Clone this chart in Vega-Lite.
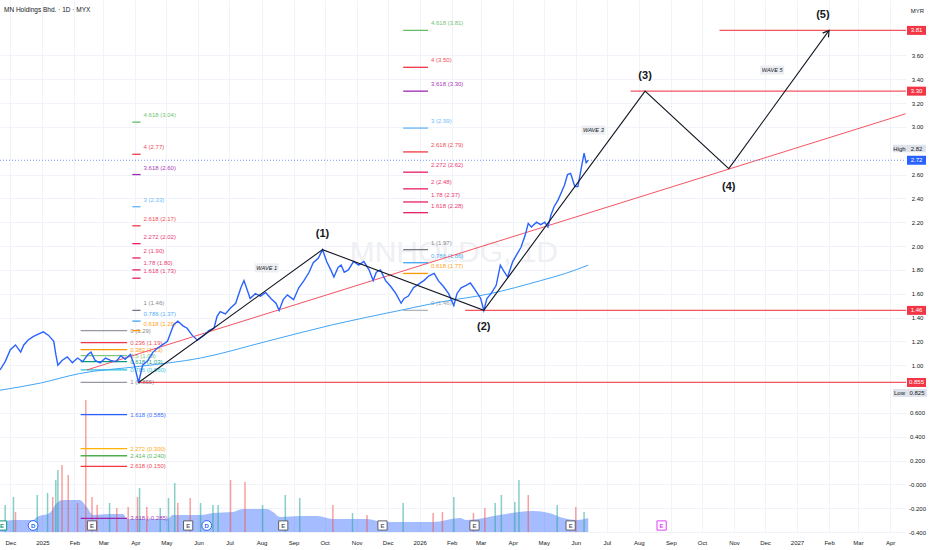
{
  "$schema": "https://vega.github.io/schema/vega-lite/v6.json",
  "width": 906,
  "height": 532,
  "autosize": {"type": "none"},
  "padding": {"left": 0, "top": 0, "right": 26, "bottom": 18},
  "background": "#ffffff",
  "title": {"text": "MN Holdings Bhd. · 1D · MYX", "anchor": "start", "frame": "group", "offset": -13, "dx": 4, "fontSize": 6.5, "fontWeight": "normal", "color": "#131722", "font": "Liberation Sans"},
  "config": {"view": {"stroke": null}, "font": "Liberation Sans"},
  "datasets": {
    "price": [
      {"date": "2024-11-21", "price": 0.96}, {"date": "2024-11-26", "price": 1.03}, {"date": "2024-12-01", "price": 1.13},
      {"date": "2024-12-06", "price": 1.17}, {"date": "2024-12-11", "price": 1.11}, {"date": "2024-12-14", "price": 1.17},
      {"date": "2024-12-18", "price": 1.21}, {"date": "2024-12-23", "price": 1.24}, {"date": "2024-12-28", "price": 1.26},
      {"date": "2025-01-02", "price": 1.28}, {"date": "2025-01-07", "price": 1.25}, {"date": "2025-01-12", "price": 1.2},
      {"date": "2025-01-14", "price": 1.09}, {"date": "2025-01-16", "price": 1.0}, {"date": "2025-01-20", "price": 1.04},
      {"date": "2025-01-25", "price": 1.07}, {"date": "2025-01-30", "price": 1.02}, {"date": "2025-02-04", "price": 1.06},
      {"date": "2025-02-09", "price": 1.03}, {"date": "2025-02-14", "price": 1.09}, {"date": "2025-02-17", "price": 1.11},
      {"date": "2025-02-21", "price": 1.04}, {"date": "2025-02-26", "price": 1.02}, {"date": "2025-03-03", "price": 1.06},
      {"date": "2025-03-08", "price": 1.04}, {"date": "2025-03-13", "price": 1.03}, {"date": "2025-03-18", "price": 1.08},
      {"date": "2025-03-22", "price": 1.05}, {"date": "2025-03-27", "price": 1.09}, {"date": "2025-03-31", "price": 1.0},
      {"date": "2025-04-04", "price": 0.855}, {"date": "2025-04-08", "price": 1.0}, {"date": "2025-04-13", "price": 1.04},
      {"date": "2025-04-18", "price": 1.11}, {"date": "2025-04-22", "price": 1.14}, {"date": "2025-04-27", "price": 1.17},
      {"date": "2025-05-02", "price": 1.2}, {"date": "2025-05-08", "price": 1.34}, {"date": "2025-05-12", "price": 1.37},
      {"date": "2025-05-17", "price": 1.33}, {"date": "2025-05-21", "price": 1.31}, {"date": "2025-05-26", "price": 1.25},
      {"date": "2025-05-31", "price": 1.21}, {"date": "2025-06-06", "price": 1.25}, {"date": "2025-06-11", "price": 1.29},
      {"date": "2025-06-16", "price": 1.31}, {"date": "2025-06-19", "price": 1.41}, {"date": "2025-06-22", "price": 1.45},
      {"date": "2025-06-27", "price": 1.43}, {"date": "2025-07-02", "price": 1.48}, {"date": "2025-07-07", "price": 1.52},
      {"date": "2025-07-12", "price": 1.65}, {"date": "2025-07-15", "price": 1.71}, {"date": "2025-07-19", "price": 1.61},
      {"date": "2025-07-21", "price": 1.56}, {"date": "2025-07-26", "price": 1.6}, {"date": "2025-07-31", "price": 1.58},
      {"date": "2025-08-05", "price": 1.61}, {"date": "2025-08-10", "price": 1.56}, {"date": "2025-08-15", "price": 1.52},
      {"date": "2025-08-18", "price": 1.46}, {"date": "2025-08-22", "price": 1.55}, {"date": "2025-08-26", "price": 1.59},
      {"date": "2025-09-01", "price": 1.55}, {"date": "2025-09-06", "price": 1.65}, {"date": "2025-09-11", "price": 1.71},
      {"date": "2025-09-16", "price": 1.78}, {"date": "2025-09-20", "price": 1.86}, {"date": "2025-09-25", "price": 1.9},
      {"date": "2025-09-29", "price": 1.97}, {"date": "2025-10-03", "price": 1.87}, {"date": "2025-10-07", "price": 1.8},
      {"date": "2025-10-10", "price": 1.74}, {"date": "2025-10-14", "price": 1.82}, {"date": "2025-10-17", "price": 1.84},
      {"date": "2025-10-20", "price": 1.78}, {"date": "2025-10-24", "price": 1.8}, {"date": "2025-10-29", "price": 1.87},
      {"date": "2025-11-03", "price": 1.84}, {"date": "2025-11-08", "price": 1.87}, {"date": "2025-11-13", "price": 1.8},
      {"date": "2025-11-17", "price": 1.71}, {"date": "2025-11-20", "price": 1.78}, {"date": "2025-11-24", "price": 1.8},
      {"date": "2025-11-29", "price": 1.71}, {"date": "2025-12-04", "price": 1.66}, {"date": "2025-12-09", "price": 1.6},
      {"date": "2025-12-14", "price": 1.52}, {"date": "2025-12-17", "price": 1.56}, {"date": "2025-12-21", "price": 1.58},
      {"date": "2025-12-26", "price": 1.65}, {"date": "2025-12-31", "price": 1.68}, {"date": "2026-01-05", "price": 1.71},
      {"date": "2026-01-10", "price": 1.75}, {"date": "2026-01-15", "price": 1.77}, {"date": "2026-01-19", "price": 1.71},
      {"date": "2026-01-24", "price": 1.66}, {"date": "2026-01-29", "price": 1.6}, {"date": "2026-02-03", "price": 1.5},
      {"date": "2026-02-06", "price": 1.6}, {"date": "2026-02-10", "price": 1.65}, {"date": "2026-02-15", "price": 1.67},
      {"date": "2026-02-19", "price": 1.69}, {"date": "2026-02-23", "price": 1.64}, {"date": "2026-02-26", "price": 1.6},
      {"date": "2026-03-01", "price": 1.56}, {"date": "2026-03-04", "price": 1.46}, {"date": "2026-03-07", "price": 1.56},
      {"date": "2026-03-11", "price": 1.6}, {"date": "2026-03-16", "price": 1.67}, {"date": "2026-03-20", "price": 1.84},
      {"date": "2026-03-24", "price": 1.78}, {"date": "2026-03-27", "price": 1.74}, {"date": "2026-04-01", "price": 1.87},
      {"date": "2026-04-05", "price": 1.93}, {"date": "2026-04-09", "price": 1.99}, {"date": "2026-04-13", "price": 2.09},
      {"date": "2026-04-16", "price": 2.19}, {"date": "2026-04-19", "price": 2.16}, {"date": "2026-04-24", "price": 2.2},
      {"date": "2026-04-28", "price": 2.18}, {"date": "2026-05-02", "price": 2.2}, {"date": "2026-05-05", "price": 2.16},
      {"date": "2026-05-08", "price": 2.26}, {"date": "2026-05-11", "price": 2.33}, {"date": "2026-05-15", "price": 2.39},
      {"date": "2026-05-18", "price": 2.45}, {"date": "2026-05-21", "price": 2.51}, {"date": "2026-05-24", "price": 2.6},
      {"date": "2026-05-27", "price": 2.61}, {"date": "2026-05-31", "price": 2.5}, {"date": "2026-06-03", "price": 2.5},
      {"date": "2026-06-06", "price": 2.64}, {"date": "2026-06-09", "price": 2.78}, {"date": "2026-06-11", "price": 2.7},
      {"date": "2026-06-13", "price": 2.72}
    ],
    "ma": [
      {"date": "2024-11-21", "price": 0.79}, {"date": "2024-12-30", "price": 0.85}, {"date": "2025-02-06", "price": 0.93},
      {"date": "2025-04-05", "price": 0.99}, {"date": "2025-06-03", "price": 1.06}, {"date": "2025-08-06", "price": 1.2},
      {"date": "2025-10-09", "price": 1.34}, {"date": "2025-12-13", "price": 1.46}, {"date": "2026-01-21", "price": 1.53},
      {"date": "2026-03-10", "price": 1.6}, {"date": "2026-04-28", "price": 1.71}, {"date": "2026-05-22", "price": 1.77},
      {"date": "2026-06-13", "price": 1.84}
    ],
    "volma": [
      {"date": "2024-11-21", "vol": 1.0}, {"date": "2024-12-04", "vol": 1.2}, {"date": "2024-12-23", "vol": 1.2},
      {"date": "2024-12-27", "vol": 1.5}, {"date": "2025-01-08", "vol": 1.9}, {"date": "2025-01-15", "vol": 2.9},
      {"date": "2025-01-21", "vol": 3.2}, {"date": "2025-02-06", "vol": 3.2}, {"date": "2025-02-13", "vol": 2.5},
      {"date": "2025-02-19", "vol": 1.7}, {"date": "2025-03-07", "vol": 1.8}, {"date": "2025-03-20", "vol": 1.8},
      {"date": "2025-03-24", "vol": 1.3}, {"date": "2025-05-02", "vol": 1.3}, {"date": "2025-05-07", "vol": 1.7},
      {"date": "2025-06-03", "vol": 1.7}, {"date": "2025-06-15", "vol": 1.9}, {"date": "2025-07-04", "vol": 2.0},
      {"date": "2025-07-14", "vol": 2.3}, {"date": "2025-08-06", "vol": 2.3}, {"date": "2025-08-12", "vol": 2.0},
      {"date": "2025-08-19", "vol": 1.5}, {"date": "2025-09-07", "vol": 1.6}, {"date": "2025-09-24", "vol": 1.6},
      {"date": "2025-10-09", "vol": 1.3}, {"date": "2025-11-11", "vol": 1.3}, {"date": "2025-11-27", "vol": 1.0},
      {"date": "2026-01-14", "vol": 1.0}, {"date": "2026-02-09", "vol": 1.4}, {"date": "2026-02-15", "vol": 1.2},
      {"date": "2026-03-19", "vol": 1.7}, {"date": "2026-04-07", "vol": 2.0}, {"date": "2026-04-21", "vol": 2.1},
      {"date": "2026-05-06", "vol": 1.9}, {"date": "2026-05-20", "vol": 1.4}, {"date": "2026-06-02", "vol": 1.2},
      {"date": "2026-06-13", "vol": 1.4}
    ],
    "volume": [
      {"date": "2024-11-26", "vol": 2.7, "dir": "up"}, {"date": "2024-12-04", "vol": 3.5, "dir": "up"},
      {"date": "2024-12-06", "vol": 2.0, "dir": "down"}, {"date": "2024-12-27", "vol": 3.7, "dir": "up"},
      {"date": "2025-01-06", "vol": 3.9, "dir": "up"}, {"date": "2025-01-11", "vol": 3.5, "dir": "down"},
      {"date": "2025-01-14", "vol": 5.2, "dir": "up"}, {"date": "2025-01-16", "vol": 6.2, "dir": "up"},
      {"date": "2025-01-20", "vol": 6.7, "dir": "down"}, {"date": "2025-01-26", "vol": 5.7, "dir": "down"},
      {"date": "2025-02-04", "vol": 2.9, "dir": "down"}, {"date": "2025-02-12", "vol": 13.2, "dir": "down"},
      {"date": "2025-02-18", "vol": 3.5, "dir": "down"}, {"date": "2025-02-23", "vol": 2.7, "dir": "down"},
      {"date": "2025-03-07", "vol": 2.9, "dir": "up"}, {"date": "2025-03-14", "vol": 2.4, "dir": "down"},
      {"date": "2025-03-25", "vol": 2.5, "dir": "down"}, {"date": "2025-04-03", "vol": 3.5, "dir": "down"},
      {"date": "2025-04-05", "vol": 4.4, "dir": "up"}, {"date": "2025-04-12", "vol": 2.5, "dir": "down"},
      {"date": "2025-04-25", "vol": 2.4, "dir": "up"}, {"date": "2025-05-03", "vol": 3.4, "dir": "up"},
      {"date": "2025-05-09", "vol": 4.9, "dir": "up"}, {"date": "2025-05-12", "vol": 2.9, "dir": "down"},
      {"date": "2025-05-24", "vol": 3.4, "dir": "down"}, {"date": "2025-06-03", "vol": 2.9, "dir": "up"},
      {"date": "2025-06-15", "vol": 2.7, "dir": "up"}, {"date": "2025-06-20", "vol": 2.7, "dir": "up"},
      {"date": "2025-07-02", "vol": 5.2, "dir": "down"}, {"date": "2025-07-16", "vol": 5.0, "dir": "down"},
      {"date": "2025-08-02", "vol": 2.7, "dir": "up"}, {"date": "2025-08-24", "vol": 3.7, "dir": "up"},
      {"date": "2025-09-07", "vol": 3.4, "dir": "up"}, {"date": "2025-10-09", "vol": 2.7, "dir": "down"},
      {"date": "2025-10-28", "vol": 1.9, "dir": "up"}, {"date": "2025-11-11", "vol": 1.7, "dir": "down"},
      {"date": "2025-12-16", "vol": 2.9, "dir": "up"}, {"date": "2026-01-14", "vol": 1.9, "dir": "down"},
      {"date": "2026-01-23", "vol": 2.0, "dir": "down"}, {"date": "2026-02-03", "vol": 3.5, "dir": "up"},
      {"date": "2026-02-22", "vol": 1.9, "dir": "down"}, {"date": "2026-03-05", "vol": 2.4, "dir": "down"},
      {"date": "2026-03-15", "vol": 2.9, "dir": "up"}, {"date": "2026-03-21", "vol": 3.7, "dir": "up"},
      {"date": "2026-04-03", "vol": 3.0, "dir": "up"}, {"date": "2026-04-07", "vol": 5.2, "dir": "up"},
      {"date": "2026-04-16", "vol": 3.7, "dir": "down"}, {"date": "2026-05-14", "vol": 2.7, "dir": "up"},
      {"date": "2026-06-01", "vol": 2.5, "dir": "down"}, {"date": "2026-06-09", "vol": 2.0, "dir": "up"}
    ],
    "events": [
      {"date": "2024-11-23", "kind": "E", "status": "beat"},
      {"date": "2024-12-23", "kind": "D", "status": "dividend"},
      {"date": "2025-02-18", "kind": "E", "status": "reported"},
      {"date": "2025-05-22", "kind": "E", "status": "reported"},
      {"date": "2025-06-09", "kind": "D", "status": "dividend"},
      {"date": "2025-08-22", "kind": "E", "status": "reported"},
      {"date": "2025-11-26", "kind": "E", "status": "reported"},
      {"date": "2026-02-23", "kind": "E", "status": "reported"},
      {"date": "2026-05-27", "kind": "E", "status": "reported"},
      {"date": "2026-08-23", "kind": "E", "status": "upcoming"}
    ],
    "retr": [
      {"date": "2025-02-07", "end": "2025-03-24", "ratio": "0", "price": 1.29, "label": "0 (1.29)"},
      {"date": "2025-02-07", "end": "2025-03-24", "ratio": "0.236", "price": 1.19, "label": "0.236 (1.19)"},
      {"date": "2025-02-07", "end": "2025-03-24", "ratio": "0.382", "price": 1.13, "label": "0.382 (1.13)"},
      {"date": "2025-02-07", "end": "2025-03-24", "ratio": "0.5", "price": 1.08, "label": "0.5 (1.08)"},
      {"date": "2025-02-07", "end": "2025-03-24", "ratio": "0.618", "price": 1.03, "label": "0.618 (1.03)"},
      {"date": "2025-02-07", "end": "2025-03-24", "ratio": "0.786", "price": 0.96, "label": "0.786 (0.960)"},
      {"date": "2025-02-07", "end": "2025-03-24", "ratio": "1", "price": 0.855, "label": "1 (0.855)"},
      {"date": "2025-02-07", "end": "2025-03-24", "ratio": "1.618", "price": 0.585, "label": "1.618 (0.585)"},
      {"date": "2025-02-07", "end": "2025-03-24", "ratio": "2.272", "price": 0.3, "label": "2.272 (0.300)"},
      {"date": "2025-02-07", "end": "2025-03-24", "ratio": "2.414", "price": 0.24, "label": "2.414 (0.240)"},
      {"date": "2025-02-07", "end": "2025-03-24", "ratio": "2.618", "price": 0.15, "label": "2.618 (0.150)"},
      {"date": "2025-02-07", "end": "2025-03-24", "ratio": "3.618", "price": -0.285, "label": "3.618 (-0.285)"}
    ],
    "ext": [
      {"date": "2025-03-29", "end": "2025-04-06", "ratio": "4.618", "price": 3.04, "label": "4.618 (3.04)"},
      {"date": "2025-03-29", "end": "2025-04-06", "ratio": "4", "price": 2.77, "label": "4 (2.77)"},
      {"date": "2025-03-29", "end": "2025-04-06", "ratio": "3.618", "price": 2.6, "label": "3.618 (2.60)"},
      {"date": "2025-03-29", "end": "2025-04-06", "ratio": "3", "price": 2.33, "label": "3 (2.33)"},
      {"date": "2025-03-29", "end": "2025-04-06", "ratio": "2.618", "price": 2.17, "label": "2.618 (2.17)"},
      {"date": "2025-03-29", "end": "2025-04-06", "ratio": "2.272", "price": 2.02, "label": "2.272 (2.02)"},
      {"date": "2025-03-29", "end": "2025-04-06", "ratio": "2", "price": 1.9, "label": "2 (1.90)"},
      {"date": "2025-03-29", "end": "2025-04-06", "ratio": "1.78", "price": 1.8, "label": "1.78 (1.80)"},
      {"date": "2025-03-29", "end": "2025-04-06", "ratio": "1.618", "price": 1.73, "label": "1.618 (1.73)"},
      {"date": "2025-03-29", "end": "2025-04-06", "ratio": "1", "price": 1.46, "label": "1 (1.46)"},
      {"date": "2025-03-29", "end": "2025-04-06", "ratio": "0.786", "price": 1.37, "label": "0.786 (1.37)"},
      {"date": "2025-03-29", "end": "2025-04-06", "ratio": "0.618", "price": 1.29, "label": "0.618 (1.29)"},
      {"date": "2025-12-16", "end": "2026-01-09", "ratio": "4.618", "price": 3.81, "label": "4.618 (3.81)"},
      {"date": "2025-12-16", "end": "2026-01-09", "ratio": "4", "price": 3.5, "label": "4 (3.50)"},
      {"date": "2025-12-16", "end": "2026-01-09", "ratio": "3.618", "price": 3.3, "label": "3.618 (3.30)"},
      {"date": "2025-12-16", "end": "2026-01-09", "ratio": "3", "price": 2.99, "label": "3 (2.99)"},
      {"date": "2025-12-16", "end": "2026-01-09", "ratio": "2.618", "price": 2.79, "label": "2.618 (2.79)"},
      {"date": "2025-12-16", "end": "2026-01-09", "ratio": "2.272", "price": 2.62, "label": "2.272 (2.62)"},
      {"date": "2025-12-16", "end": "2026-01-09", "ratio": "2", "price": 2.48, "label": "2 (2.48)"},
      {"date": "2025-12-16", "end": "2026-01-09", "ratio": "1.78", "price": 2.37, "label": "1.78 (2.37)"},
      {"date": "2025-12-16", "end": "2026-01-09", "ratio": "1.618", "price": 2.28, "label": "1.618 (2.28)"},
      {"date": "2025-12-16", "end": "2026-01-09", "ratio": "1", "price": 1.97, "label": "1 (1.97)"},
      {"date": "2025-12-16", "end": "2026-01-09", "ratio": "0.786", "price": 1.86, "label": "0.786 (1.86)"},
      {"date": "2025-12-16", "end": "2026-01-09", "ratio": "0.618", "price": 1.77, "label": "0.618 (1.77)"},
      {"date": "2025-12-16", "end": "2026-01-09", "ratio": "0", "price": 1.46, "label": "0 (1.46)"}
    ],
    "levels": [
      {"date": "2025-04-04", "end": "2027-04-20", "price": 0.855},
      {"date": "2026-02-14", "end": "2027-04-20", "price": 1.46},
      {"date": "2026-07-24", "end": "2027-04-20", "price": 3.3},
      {"date": "2026-10-18", "end": "2027-04-20", "price": 3.81}
    ],
    "waves": [
      {"date": "2025-04-04", "price": 0.855},
      {"date": "2025-09-29", "price": 1.97},
      {"date": "2026-03-04", "price": 1.46},
      {"date": "2026-08-07", "price": 3.3},
      {"date": "2026-10-27", "price": 2.65},
      {"date": "2027-02-01", "price": 3.81}
    ],
    "waveLabels": [
      {"date": "2025-09-29", "price": 2.1, "label": "(1)"},
      {"date": "2026-03-04", "price": 1.32, "label": "(2)"},
      {"date": "2026-08-07", "price": 3.43, "label": "(3)"},
      {"date": "2026-10-27", "price": 2.495, "label": "(4)"},
      {"date": "2027-01-26", "price": 3.94, "label": "(5)"}
    ],
    "waveNames": [
      {"date": "2025-08-06", "price": 1.817, "label": "WAVE 1"},
      {"date": "2026-06-18", "price": 2.973, "label": "WAVE 3"},
      {"date": "2026-12-08", "price": 3.477, "label": "WAVE 5"}
    ],
    "tags": [
      {"price": 3.81, "label": "3.81", "kind": "target"},
      {"price": 3.3, "label": "3.30", "kind": "target"},
      {"price": 2.72, "label": "2.72", "kind": "last"},
      {"price": 1.46, "label": "1.46", "kind": "target"},
      {"price": 0.855, "label": "0.855", "kind": "target"}
    ]
  },
  "encoding": {
    "x": {
      "field": "date",
      "type": "temporal",
      "scale": {"type": "utc", "nice": false, "domain": [{"year": 2024, "month": 11, "date": 21, "utc": true}, {"year": 2027, "month": 4, "date": 16, "hours": 10, "utc": true}]},
      "axis": {
        "orient": "bottom", "title": null,
        "tickCount": {"interval": "month", "step": 1},
        "labelExpr": "utcmonth(datum.value) == 0 ? utcFormat(datum.value, '%Y') : utcFormat(datum.value, '%b')",
        "labelFontSize": 6, "labelColor": "#131722", "labelPadding": 10, "labelBaseline": "middle",
        "ticks": false, "tickSize": 0, "domain": false, "grid": true, "gridColor": "#f0f3fa",
        "labelFlush": false, "labelOverlap": false
      }
    }
  },
  "layer": [
    {
      "encoding": {"y": {"field": "vol", "type": "quantitative", "scale": {"domain": [0, 53.2], "nice": false, "zero": true}, "axis": null}},
      "layer": [
        {"data": {"name": "volma"}, "mark": {"type": "area", "color": "#2962ff", "opacity": 0.42, "interpolate": "monotone"}},
        {
          "data": {"name": "volume"},
          "mark": {"type": "rule", "strokeWidth": 1.5, "opacity": 0.55},
          "encoding": {
            "y2": {"datum": 0},
            "color": {"field": "dir", "type": "nominal", "scale": {"domain": ["up", "down"], "range": ["#26a69a", "#ef5350"]}, "legend": null}
          }
        }
      ]
    },
    {
      "encoding": {
        "y": {
          "field": "price", "type": "quantitative",
          "scale": {"domain": [-0.4, 4.065], "nice": false, "zero": false},
          "axis": {
            "orient": "right", "title": "MYR", "titleAngle": 0, "titleX": 11, "titleY": 10, "titleAlign": "center", "titleBaseline": "middle",
            "titleFontSize": 6, "titleFontWeight": "normal", "titleColor": "#131722",
            "values": [-0.4, -0.2, 0, 0.2, 0.4, 0.6, 1, 1.2, 1.4, 1.6, 1.8, 2, 2.2, 2.4, 2.6, 3, 3.2, 3.4, 3.6],
            "labelExpr": "datum.value >= 1 ? format(datum.value, '.2f') : (datum.value == 0 ? '-0.000' : replace(format(datum.value, '.3f'), '−', '-'))",
            "labelAlign": "center", "labelPadding": 11, "labelFontSize": 6, "labelColor": "#131722",
            "ticks": false, "tickSize": 0, "domain": false, "grid": true, "gridColor": "#f0f3fa"
          }
        }
      },
      "layer": [
        {
          "data": {"values": [{"date": "2026-02-03", "price": 1.94, "text": "MNHOLDG, 1D"}]},
          "mark": {"type": "text", "fontSize": 30, "color": "#eff0f3", "align": "center", "baseline": "middle"},
          "encoding": {"text": {"field": "text"}}
        },
        {
          "data": {"name": "retr"},
          "mark": {"type": "rule", "strokeWidth": 1.3},
          "encoding": {
            "x2": {"field": "end"},
            "color": {"field": "ratio", "type": "nominal", "legend": null, "scale": {"domain": ["0", "0.236", "0.382", "0.5", "0.618", "0.786", "1", "1.618", "2.272", "2.414", "2.618", "3.618"], "range": ["#9598a1", "#f23645", "#ff9800", "#81c784", "#089981", "#26c6da", "#9598a1", "#2962ff", "#ffb300", "#4caf50", "#f23645", "#9c27b0"]}}
          }
        },
        {
          "data": {"name": "retr"},
          "mark": {"type": "text", "align": "left", "baseline": "middle", "dx": 3, "fontSize": 6, "opacity": 0.9},
          "encoding": {
            "x": {"field": "end", "type": "temporal"},
            "text": {"field": "label"},
            "color": {"field": "ratio", "type": "nominal", "legend": null, "scale": {"domain": ["0", "0.236", "0.382", "0.5", "0.618", "0.786", "1", "1.618", "2.272", "2.414", "2.618", "3.618"], "range": ["#787b86", "#f23645", "#ff9800", "#66bb6a", "#089981", "#26c6da", "#787b86", "#2962ff", "#ffa000", "#4caf50", "#f23645", "#9c27b0"]}}
          }
        },
        {
          "data": {"name": "ext"},
          "mark": {"type": "rule", "strokeWidth": 1.3},
          "encoding": {
            "x2": {"field": "end"},
            "color": {"field": "ratio", "type": "nominal", "legend": null, "scale": {"domain": ["0", "0.618", "0.786", "1", "1.618", "1.78", "2", "2.272", "2.618", "3", "3.618", "4", "4.618"], "range": ["#b2b5be", "#ff9800", "#42a5f5", "#787b86", "#e91e63", "#e91e63", "#e91e63", "#e91e63", "#f23645", "#64b5f6", "#9c27b0", "#f23645", "#66bb6a"]}}
          }
        },
        {
          "data": {"name": "ext"},
          "mark": {"type": "text", "align": "left", "baseline": "middle", "dx": 3, "dy": -7, "fontSize": 6, "opacity": 0.9},
          "encoding": {
            "x": {"field": "end", "type": "temporal"},
            "text": {"field": "label"},
            "color": {"field": "ratio", "type": "nominal", "legend": null, "scale": {"domain": ["0", "0.618", "0.786", "1", "1.618", "1.78", "2", "2.272", "2.618", "3", "3.618", "4", "4.618"], "range": ["#9598a1", "#ff9800", "#42a5f5", "#787b86", "#e91e63", "#e91e63", "#e91e63", "#e91e63", "#f23645", "#64b5f6", "#9c27b0", "#f23645", "#66bb6a"]}}
          }
        },
        {
          "data": {"name": "levels"},
          "mark": {"type": "rule", "color": "#f23645", "strokeWidth": 1.3, "opacity": 0.85, "clip": true},
          "encoding": {"x2": {"field": "end"}}
        },
        {
          "data": {"values": [{"date": "2025-02-13", "end": "2027-04-16", "price": 0.96, "price2": 3.11}]},
          "mark": {"type": "rule", "color": "#f23645", "strokeWidth": 1, "opacity": 0.85, "clip": true},
          "encoding": {"x2": {"field": "end"}, "y2": {"field": "price2"}}
        },
        {
          "data": {"values": [{"date": "2024-11-21", "end": "2027-04-20", "price": 2.72}]},
          "mark": {"type": "rule", "color": "#2962ff", "strokeWidth": 0.8, "strokeDash": [1, 2], "opacity": 0.8, "clip": true},
          "encoding": {"x2": {"field": "end"}}
        },
        {
          "data": {"name": "ma"},
          "mark": {"type": "line", "color": "#42a5f5", "strokeWidth": 1, "interpolate": "monotone"},
          "encoding": {}
        },
        {
          "data": {"name": "price"},
          "mark": {"type": "line", "color": "#2962ff", "strokeWidth": 1.4},
          "encoding": {}
        },
        {
          "data": {"name": "waves"},
          "mark": {"type": "line", "color": "#131722", "strokeWidth": 1.1},
          "encoding": {}
        },
        {
          "data": {"values": [{"date": "2027-02-01", "price": 3.81}]},
          "mark": {"type": "point", "shape": "M-0.6,1L0,0L0.6,1", "size": 144, "angle": 36, "filled": false, "stroke": "#131722", "strokeWidth": 1.1, "opacity": 1}
        },
        {
          "data": {"name": "waveLabels"},
          "mark": {"type": "text", "fontSize": 11, "fontWeight": "bold", "color": "#131722", "align": "center", "baseline": "middle"},
          "encoding": {"text": {"field": "label"}}
        },
        {
          "data": {"name": "waveNames"},
          "mark": {"type": "point", "shape": "M-1,-0.38H1V0.38H-1Z", "size": 576, "filled": true, "color": "#eceef2", "opacity": 1}
        },
        {
          "data": {"name": "waveNames"},
          "mark": {"type": "text", "fontSize": 5.6, "fontStyle": "italic", "color": "#131722", "align": "center", "baseline": "middle"},
          "encoding": {"text": {"field": "label"}}
        },
        {
          "data": {"name": "events"},
          "transform": [{"filter": "datum.kind == 'E'"}],
          "mark": {"type": "point", "shape": "square", "filled": false, "fill": "#ffffff", "strokeWidth": 1, "size": 85, "opacity": 1, "yOffset": -6.5},
          "encoding": {
            "y": {"value": "height"},
            "stroke": {"field": "status", "type": "nominal", "scale": {"domain": ["beat", "reported", "upcoming"], "range": ["#089981", "#5d606b", "#e040fb"]}, "legend": null}
          }
        },
        {
          "data": {"name": "events"},
          "transform": [{"filter": "datum.kind == 'D'"}],
          "mark": {"type": "point", "shape": "circle", "filled": false, "fill": "#ffffff", "stroke": "#2962ff", "strokeWidth": 1, "size": 95, "opacity": 1, "yOffset": -6.5},
          "encoding": {"y": {"value": "height"}}
        },
        {
          "data": {"name": "events"},
          "mark": {"type": "text", "fontSize": 6, "fontWeight": "bold", "align": "center", "baseline": "middle", "dy": -6.5},
          "encoding": {
            "y": {"value": "height"},
            "text": {"field": "kind", "type": "nominal"},
            "color": {"field": "status", "type": "nominal", "scale": {"domain": ["beat", "reported", "dividend", "upcoming"], "range": ["#089981", "#5d606b", "#2962ff", "#e040fb"]}, "legend": null}
          }
        },
        {
          "data": {"name": "tags"},
          "mark": {"type": "rect", "xOffset": 1, "x2Offset": 20, "yOffset": -4.5, "y2Offset": 4.5},
          "encoding": {
            "x": {"value": "width"}, "x2": {"value": "width"},
            "y2": {"field": "price"},
            "color": {"field": "kind", "type": "nominal", "scale": {"domain": ["target", "last"], "range": ["#f23645", "#2962ff"]}, "legend": null}
          }
        },
        {
          "data": {"name": "tags"},
          "mark": {"type": "text", "dx": 10.5, "fontSize": 6, "color": "#ffffff", "align": "center", "baseline": "middle"},
          "encoding": {"x": {"value": "width"}, "text": {"field": "label"}}
        },
        {
          "data": {"values": [{"price": 2.82, "which": "High", "label": "2.82"}]},
          "layer": [
            {"mark": {"type": "rect", "color": "#e0e3eb", "xOffset": -13, "x2Offset": 20, "yOffset": -3.5, "y2Offset": 4}, "encoding": {"x": {"value": "width"}, "x2": {"value": "width"}, "y2": {"field": "price"}}},
            {"mark": {"type": "text", "dx": -6.5, "dy": 0.3, "fontSize": 6, "color": "#131722", "align": "center", "baseline": "middle"}, "encoding": {"x": {"value": "width"}, "text": {"field": "which"}}},
            {"mark": {"type": "text", "dx": 10.5, "dy": 0.3, "fontSize": 6, "color": "#131722", "align": "center", "baseline": "middle"}, "encoding": {"x": {"value": "width"}, "text": {"field": "label"}}}
          ]
        },
        {
          "data": {"values": [{"price": 0.825, "which": "Low", "label": "0.825"}]},
          "layer": [
            {"mark": {"type": "rect", "color": "#e0e3eb", "xOffset": -13, "x2Offset": 21, "yOffset": 3, "y2Offset": 11}, "encoding": {"x": {"value": "width"}, "x2": {"value": "width"}, "y2": {"field": "price"}}},
            {"mark": {"type": "text", "dx": -6.5, "dy": 7, "fontSize": 6, "color": "#131722", "align": "center", "baseline": "middle"}, "encoding": {"x": {"value": "width"}, "text": {"field": "which"}}},
            {"mark": {"type": "text", "dx": 11, "dy": 7, "fontSize": 6, "color": "#131722", "align": "center", "baseline": "middle"}, "encoding": {"x": {"value": "width"}, "text": {"field": "label"}}}
          ]
        }
      ],
      "resolve": {"scale": {"color": "independent"}}
    }
  ],
  "resolve": {"scale": {"y": "independent", "color": "independent"}}
}
